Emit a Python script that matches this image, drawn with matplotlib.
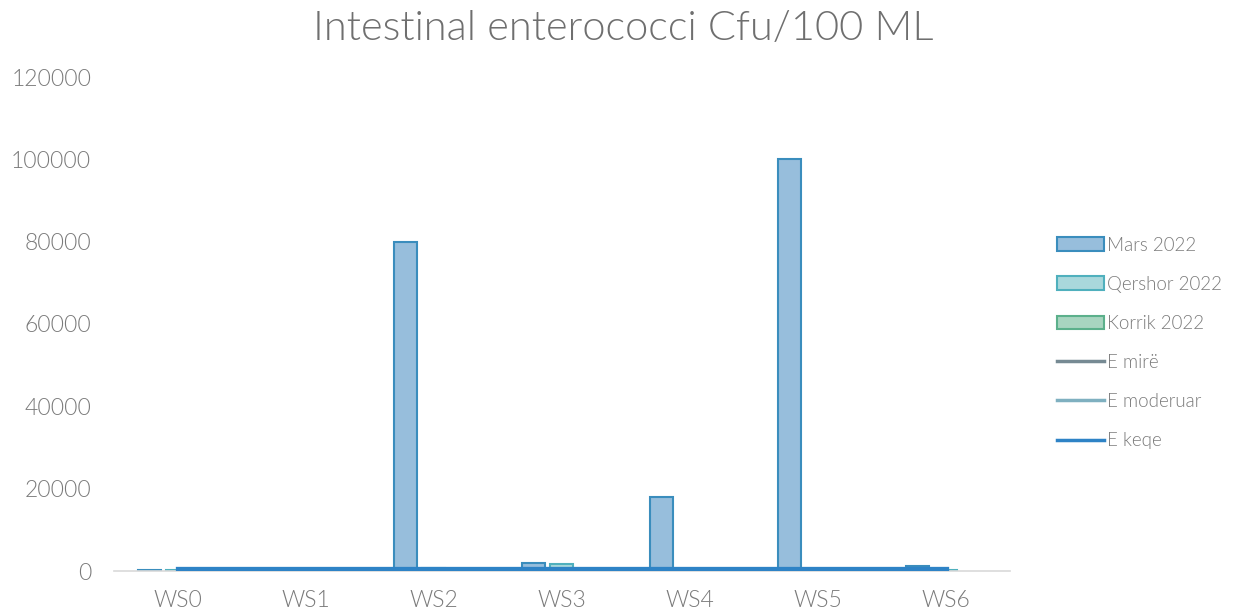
import numpy as np
import matplotlib
matplotlib.use("Agg")
import matplotlib.pyplot as plt
from matplotlib.patches import Patch
from matplotlib.lines import Line2D

categories = ["WS0", "WS1", "WS2", "WS3", "WS4", "WS5", "WS6"]
mars = [150, 600, 80000, 2000, 18000, 100000, 1200]
qershor = [150, 100, 700, 1800, 100, 100, 150]
korrik = [np.nan] * 7
e_mire = [100] * 7
e_moderuar = [200] * 7
e_keqe = [380] * 7
yticks = [0, 20000, 40000, 60000, 80000, 100000, 120000]

plt.rcParams['font.family'] = ['Lato', 'DejaVu Sans']
plt.rcParams['font.weight'] = 300
txt = '#7a7a7a'

fig = plt.figure(figsize=(12.37, 6.16), dpi=100)
ax = fig.add_axes([113.5/1237, 1-571/616, 896/1237, 494/616])

x = np.arange(len(categories))
w = 0.18
off = 0.219
ax.bar(x - off, mars, w, color='#97bedc', edgecolor='#3a8dbd', linewidth=1.5, zorder=2)
ax.bar(x, qershor, w, color='#a9d8dc', edgecolor='#4fb0bd', linewidth=1.5, zorder=2)
ax.bar(x + off, korrik, w, color='#a8d5c0', edgecolor='#5bb08b', linewidth=1.5, zorder=2)
ax.plot(x, e_mire, color='#768a93', lw=2.5, zorder=3)
ax.plot(x, e_moderuar, color='#7fb0c0', lw=2.5, zorder=3)
ax.plot(x, e_keqe, color='#2e83c6', lw=3.8, zorder=4)

ax.set_xlim(-0.5, len(categories) - 0.5)
ax.set_ylim(0, 120000)
ax.set_yticks(yticks)
ax.set_yticklabels([str(v) for v in yticks])
ax.set_xticks(x)
ax.set_xticklabels(categories)
for s in ['top', 'right', 'left']:
    ax.spines[s].set_visible(False)
ax.spines['bottom'].set_color('#d9d9d9')
ax.spines['bottom'].set_linewidth(1.2)
ax.tick_params(axis='both', length=0, colors=txt, labelsize=16.5)
ax.tick_params(axis='y', pad=16)
ax.tick_params(axis='x', pad=14)

fig.text(623/1237, 1-28/616, "Intestinal enterococci Cfu/100 ML", ha='center', va='center',
         fontsize=30, color='#6f6f6f')

handles = [
    Patch(facecolor='#97bedc', edgecolor='#3a8dbd', linewidth=1.5),
    Patch(facecolor='#a9d8dc', edgecolor='#4fb0bd', linewidth=1.5),
    Patch(facecolor='#a8d5c0', edgecolor='#5bb08b', linewidth=1.5),
    Line2D([], [], color='#768a93', lw=2.5),
    Line2D([], [], color='#7fb0c0', lw=2.5),
    Line2D([], [], color='#2e83c6', lw=2.5),
]
labels = ["Mars 2022", "Qershor 2022", "Korrik 2022", "E mirë", "E moderuar", "E keqe"]
leg = fig.legend(handles, labels, loc='center left', bbox_to_anchor=(1040/1237, 1-343/616),
                 frameon=False, fontsize=13.5, labelcolor=txt, handlelength=2.5, handleheight=0.75,
                 handletextpad=0.15, labelspacing=1.18)

fig.savefig("out.png", dpi=100)
